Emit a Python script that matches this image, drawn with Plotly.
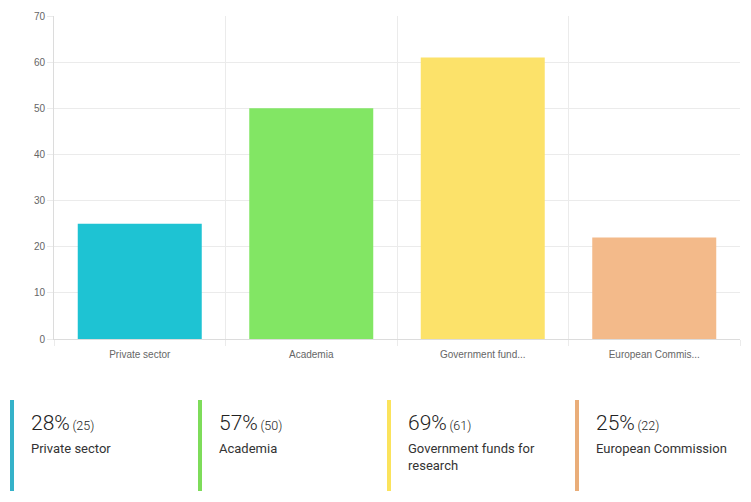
import textwrap
import plotly.graph_objects as go

categories = ["Private sector", "Academia", "Government funds for research", "European Commission"]
counts = [25, 50, 61, 22]
respondents = 88
bar_colors = ["#1ec3d3", "#82e664", "#fce26a", "#f3ba8a"]
card_colors = ["#35b2c9", "#7edc5a", "#fbe35c", "#e9ad79"]
y_ticks = [0, 10, 20, 30, 40, 50, 60, 70]

W, H = 751, 502
L, R, T, B = 54, 11, 16, 163
pw, ph = W - L - R, H - T - B


def px_x(px):
    return (px - L) / pw


def px_y(py):
    return (H - B - py) / ph


def short(label, n=15):
    return label if len(label) <= n else label[:n] + "..."


xs = list(range(len(categories)))
fig = go.Figure()
fig.add_trace(go.Bar(
    x=xs, y=counts, marker=dict(color=bar_colors, line=dict(width=0)),
    hoverinfo="skip", showlegend=False,
))

fig.update_layout(
    width=W, height=H,
    margin=dict(l=L, r=R, t=T, b=B),
    plot_bgcolor="white", paper_bgcolor="white",
    bargap=0.277,
    font=dict(family="Liberation Sans, Arial, sans-serif", size=10, color="#666666"),
    xaxis=dict(
        range=[-0.5, len(categories) - 0.5],
        tickvals=xs, ticktext=[short(c) for c in categories],
        showgrid=False, ticks="", zeroline=False,
        showline=True, linecolor="#dcdcdc", linewidth=1,
        ticklabelstandoff=6,
        minor=dict(tickvals=[i - 0.5 for i in range(len(categories) + 1)],
                   showgrid=True, gridcolor="#ebebeb", gridwidth=1,
                   ticks="outside", ticklen=6, tickcolor="#ebebeb"),
        tickfont=dict(family="Liberation Sans, Arial, sans-serif", size=10, color="#666666"),
        fixedrange=True,
    ),
    yaxis=dict(
        range=[0, max(y_ticks)], tickvals=y_ticks,
        showgrid=True, gridcolor="#ebebeb", gridwidth=1,
        zeroline=False, showline=True, linecolor="#dcdcdc", linewidth=1,
        ticks="outside", ticklen=6, tickcolor="#ebebeb",
        ticklabelstandoff=0,
        tickfont=dict(family="Liberation Sans, Arial, sans-serif", size=10, color="#666666"),
        fixedrange=True,
    ),
)

card_left = [10, 198, 387, 575]
for i, (cat, cnt) in enumerate(zip(categories, counts)):
    x0 = card_left[i]
    fig.add_shape(type="rect", xref="paper", yref="paper",
                  x0=px_x(x0), x1=px_x(x0 + 4), y0=px_y(400), y1=px_y(491),
                  fillcolor=card_colors[i], line=dict(width=0), layer="above")
    pct = round(100 * cnt / respondents)
    fig.add_annotation(
        xref="paper", yref="paper", x=px_x(x0 + 19), y=px_y(423),
        xanchor="left", yanchor="middle", showarrow=False,
        text=f"<span style='font-size:21px'>{pct}%</span><span style='font-size:12.5px'>\u2009({cnt})</span>",
        font=dict(family="Roboto, sans-serif", color="#222222", weight=300),
    )
    fig.add_annotation(
        xref="paper", yref="paper", x=px_x(x0 + 19), y=px_y(439),
        xanchor="left", yanchor="top", showarrow=False, align="left",
        text="<br>".join(textwrap.wrap(cat, 20)),
        font=dict(family="Roboto, sans-serif", size=13, color="#333333"),
    )

fig.write_html("out.html", config={"displayModeBar": False},
               post_script="document.body.style.margin='0';document.body.style.padding='0';")
